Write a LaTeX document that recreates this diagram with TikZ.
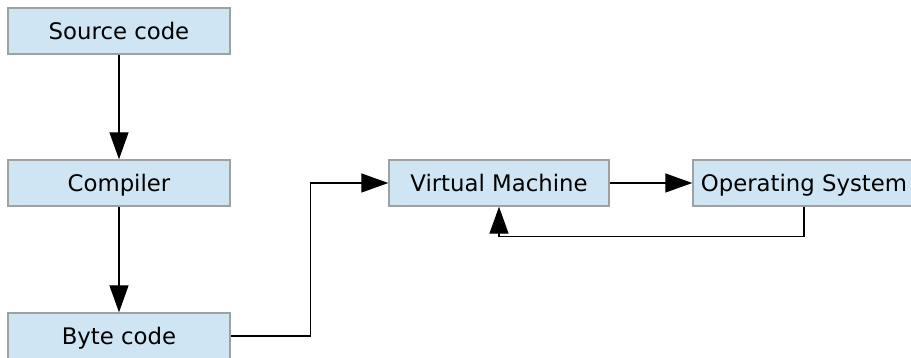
\documentclass[tikz,border=0pt]{standalone}
\usepackage{fontspec}
\setmainfont{DejaVu Sans}
\usetikzlibrary{arrows.meta}
\definecolor{boxfill}{RGB}{207,229,243}
\definecolor{boxline}{RGB}{160,160,160}
\tikzset{
  block/.style={draw=boxline, line width=1.4pt, fill=boxfill,
    minimum height=46pt, inner sep=0pt, text height=18.3pt, text depth=2pt,
    text=black, font=\fontsize{22.8}{25}\selectfont},
  flow/.style={draw=black, line width=1.3pt,
    -{Triangle[length=27pt,width=19pt]}},
}
\begin{document}
\begin{tikzpicture}[x=1pt,y=-1pt]
  \useasboundingbox (0,0) rectangle (911,358);
  \begin{scope}
    \clip (0,0) rectangle (911,358);
    \node[block, minimum width=222pt] (src)  at (119,31)  {Source code};
    \node[block, minimum width=222pt] (comp) at (119,183) {Compiler};
    \node[block, minimum width=222pt] (byte) at (119,336) {Byte code};
    \node[block, minimum width=220pt] (vm)   at (499,183) {Virtual Machine};
    \node[block, minimum width=222pt] (os)   at (804,183) {Operating System};

    \draw[flow] (src.south) -- (comp.north);
    \draw[flow] (comp.south) -- (byte.north);
    \draw[flow] (byte.east) -- ++(80,0) |- (vm.west);
    \draw[flow] (vm.east) -- (os.west);
    \draw[flow] (os.south) -- ++(0,30) -| (vm.south);
  \end{scope}
\end{tikzpicture}
\end{document}
